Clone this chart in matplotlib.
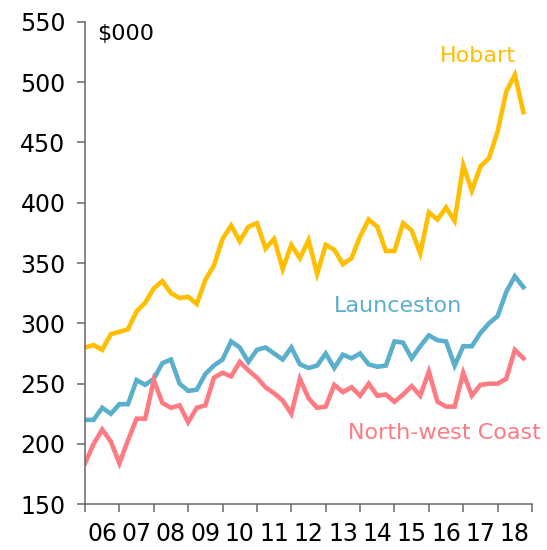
import matplotlib.pyplot as plt
import numpy as np

# quarterly median prices, $000, March 2006 to December 2018
hobart = [280, 282, 278, 291, 293, 295, 310, 317, 329, 335, 325, 321, 322, 316,
          336, 348, 370, 381, 368, 380, 383, 362, 370, 345, 365, 354, 369, 341,
          365, 361, 349, 354, 372, 386, 380, 360, 360, 383, 377, 358, 392, 386,
          396, 385, 431, 410, 430, 437, 459, 492, 506, 475]
launceston = [220, 220, 230, 225, 233, 233, 253, 249, 254, 267, 270, 250, 244, 245,
              258, 265, 270, 285, 280, 268, 278, 280, 275, 270, 280, 266, 263, 265,
              275, 263, 274, 271, 275, 266, 264, 265, 285, 284, 271, 281, 290, 286,
              285, 265, 281, 281, 292, 300, 306, 326, 339, 330]
north_west = [184, 200, 212, 202, 184, 203, 221, 221, 253, 234, 230, 232, 218, 230,
              232, 255, 259, 256, 268, 261, 255, 247, 242, 236, 225, 254, 238, 230,
              231, 249, 243, 247, 240, 250, 240, 241, 235, 241, 248, 240, 260, 235,
              231, 231, 259, 240, 249, 250, 250, 254, 278, 271]
years = list(range(2006, 2019))
year_labels = [f"{y % 100:02d}" for y in years]

x = 2006 + np.arange(len(hobart)) / 4

fig = plt.figure(figsize=(5.47, 5.50), dpi=100)
ax = fig.add_axes([0.1554, 0.0831, 0.8172, 0.8774])

ax.plot(x, hobart, color="#FFBF00", lw=3.3, solid_joinstyle="miter")
ax.plot(x, launceston, color="#5AAFCD", lw=3.3, solid_joinstyle="miter")
ax.plot(x, north_west, color="#FF7B83", lw=3.3, solid_joinstyle="miter")

ax.set_xlim(2006, 2019)
ax.set_ylim(150, 550)
ax.set_yticks(range(150, 551, 50))

# ticks at year boundaries, labels centred in each year
ax.set_xticks(years + [2019])
ax.set_xticklabels([])
ax.set_xticks([y + 0.5 for y in years], minor=True)
ax.set_xticklabels(year_labels, minor=True)
ax.tick_params(axis="x", which="minor", length=0, pad=13, labelsize=17)
ax.tick_params(axis="x", which="major", length=6, width=1.1, color="#666666")
ax.tick_params(axis="y", length=6, width=1.1, color="#666666", labelsize=17, pad=8)

for s in ["top", "right"]:
    ax.spines[s].set_visible(False)
for s in ["left", "bottom"]:
    ax.spines[s].set_color("#666666")
    ax.spines[s].set_linewidth(1.1)

ax.text(0.027, 0.995, "$000", transform=ax.transAxes, fontsize=16, va="top", ha="left")
ax.text(2017.42, 522, "Hobart", color="#FFBF00", fontsize=16, ha="center", va="center")
ax.text(2015.1, 314, "Launceston", color="#5AAFCD", fontsize=16, ha="center", va="center")
ax.text(2016.45, 209, "North-west Coast", color="#FF7B83", fontsize=16, ha="center", va="center")

fig.savefig("out.png", dpi=100)
